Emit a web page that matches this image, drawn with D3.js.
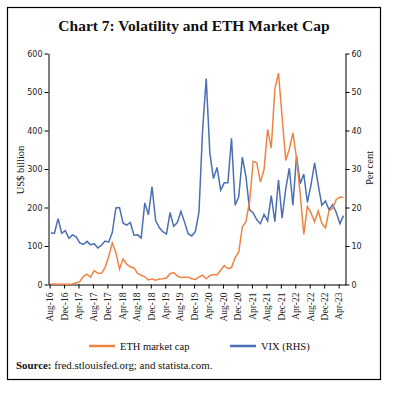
<!DOCTYPE html>
<meta charset="utf-8">
<head>
    <style>
        body {margin: 0; background: #fff;}
        .tick text {font-family: "DejaVu Sans", sans-serif; font-size: 8px; fill: #222;}
        .x-axis .tick text {font-family: "Liberation Serif", serif; font-size: 9.5px;}
        .domain, .tick line {stroke: #000;}
        .serif {font-family: "Liberation Serif", serif; fill: #111;}
    </style>
    <script src="https://d3js.org/d3.v7.min.js"></script>
</head>
<body>
<script>
    // monthly, Aug-16 .. May-23
    var tickLabels = ["Aug-16","Dec-16","Apr-17","Aug-17","Dec-17","Apr-18","Aug-18","Dec-18",
        "Apr-19","Aug-19","Dec-19","Apr-20","Aug-20","Dec-20","Apr-21","Aug-21","Dec-21",
        "Apr-22","Aug-22","Dec-22","Apr-23"];

    // ETH market cap, US$ billion
    var ethCap = [1.0, 1.1, 0.9, 0.8, 0.7,
        0.9, 1.4, 4.6, 7.3, 21, 27, 19, 36, 29, 29, 44, 72,
        108, 83, 40, 66, 53, 46, 43, 29, 24, 20, 12, 14,
        11, 14, 15, 17, 28, 31, 22, 18, 19, 19, 15, 13,
        19, 24, 15, 23, 26, 25, 37, 49, 41, 44, 70, 84,
        150, 163, 215, 320, 316, 266, 298, 403, 354, 508, 549, 436,
        322, 352, 394, 328, 236, 130, 203, 186, 163, 191, 159, 147,
        192, 198, 221, 227, 226];

    // VIX, per cent (RHS)
    var vix = [13.4, 13.3, 17.1, 13.3, 14.0,
        12.0, 12.9, 12.4, 10.8, 10.4, 11.2, 10.3, 10.6, 9.5, 10.2, 11.3, 11.0,
        13.5, 19.9, 20.0, 15.9, 15.4, 16.1, 12.8, 12.9, 12.1, 21.2, 18.1, 25.4,
        16.6, 14.8, 13.7, 13.1, 18.7, 15.1, 16.1, 19.0, 16.2, 13.2, 12.6, 13.8,
        18.8, 40.1, 53.5, 34.2, 27.5, 30.4, 24.5, 26.4, 26.4, 38.0, 20.6, 22.8,
        33.1, 28.0, 19.4, 18.6, 16.8, 15.8, 18.2, 16.5, 23.1, 16.3, 27.2, 17.2,
        24.8, 30.2, 20.6, 33.4, 26.2, 28.7, 21.3, 25.9, 31.6, 25.9, 20.6, 21.7,
        19.4, 20.7, 18.7, 15.8, 17.9];

    var leftTicks = [0, 100, 200, 300, 400, 500, 600],
        rightTicks = [0, 10, 20, 30, 40, 50, 60];

    var width = 396, height = 398;

    var svg = d3.select("body").append("svg")
        .attr("width", width)
        .attr("height", height);

    svg.append("rect")
        .attr("x", 7.5).attr("y", 7.5)
        .attr("width", 373).attr("height", 372)
        .attr("fill", "none").attr("stroke", "#000").attr("stroke-width", 1.2);

    svg.append("text")
        .attr("class", "serif")
        .attr("x", 194).attr("y", 31)
        .attr("text-anchor", "middle")
        .style("font-size", "15.5px").style("font-weight", "bold")
        .text("Chart 7: Volatility and ETH Market Cap");

    // month index scale
    var x = d3.scaleLinear().domain([-0.3, 81.9]).range([48.5, 345.5]);
    var yL = d3.scaleLinear().domain([0, 600]).range([284.5, 53.5]);
    var yR = d3.scaleLinear().domain([0, 60]).range([284.5, 53.5]);

    var tickIdx = tickLabels.map(function(d, i) {return i * 4});

    svg.append("g")
        .attr("class", "x-axis")
        .attr("transform", "translate(0," + yL(0) + ")")
        .call(d3.axisBottom(x).tickValues(tickIdx).tickSize(4).tickSizeOuter(0)
            .tickFormat(function(d, i) {return tickLabels[i]}))
        .selectAll(".tick text")
        .attr("transform", "rotate(-90)")
        .attr("text-anchor", "end")
        .attr("x", -8).attr("y", 0).attr("dy", "0.35em");

    svg.append("g")
        .attr("transform", "translate(" + x.range()[0] + ",0)")
        .call(d3.axisLeft(yL).tickValues(leftTicks).tickSize(4).tickPadding(2).tickSizeOuter(0));

    svg.append("g")
        .attr("transform", "translate(" + x.range()[1] + ",0)")
        .call(d3.axisRight(yR).tickValues(rightTicks).tickSize(4).tickPadding(2).tickSizeOuter(0));

    svg.append("text")
        .attr("class", "serif")
        .attr("transform", "translate(24,170) rotate(-90)")
        .attr("text-anchor", "middle")
        .style("font-size", "10.5px")
        .text("US$ billion");

    svg.append("text")
        .attr("class", "serif")
        .attr("transform", "translate(373,168) rotate(-90)")
        .attr("text-anchor", "middle")
        .style("font-size", "10.5px")
        .text("Per cent");

    var offset = 0.35;

    var ethLine = d3.line()
        .x(function(d, i) {return x(i + offset)})
        .y(function(d) {return yL(d)});

    var vixLine = d3.line()
        .x(function(d, i) {return x(i + offset)})
        .y(function(d) {return yR(d)});

    svg.append("path")
        .datum(vix)
        .attr("fill", "none")
        .attr("stroke", "#4a6fb5")
        .attr("stroke-width", 1.5)
        .attr("d", vixLine);

    svg.append("path")
        .datum(ethCap)
        .attr("fill", "none")
        .attr("stroke", "#ee8442")
        .attr("stroke-width", 1.5)
        .attr("d", ethLine);

    // legend
    var legend = [
        {name: "ETH market cap", color: "#ee8442", x: 89},
        {name: "VIX (RHS)", color: "#4a6fb5", x: 230}
    ];
    var lg = svg.append("g").selectAll("g").data(legend).enter().append("g");
    lg.append("line")
        .attr("x1", function(d) {return d.x}).attr("x2", function(d) {return d.x + 26})
        .attr("y1", 346).attr("y2", 346)
        .attr("stroke", function(d) {return d.color})
        .attr("stroke-width", 2.5);
    lg.append("text")
        .attr("class", "serif")
        .attr("x", function(d) {return d.x + 31}).attr("y", 349.5)
        .style("font-size", "10.5px")
        .text(function(d) {return d.name});

    var src = svg.append("text")
        .attr("class", "serif")
        .attr("x", 16).attr("y", 369)
        .style("font-size", "10.9px");
    src.append("tspan").style("font-weight", "bold").text("Source:");
    src.append("tspan").text(" fred.stlouisfed.org; and statista.com.");
</script>
</body>
